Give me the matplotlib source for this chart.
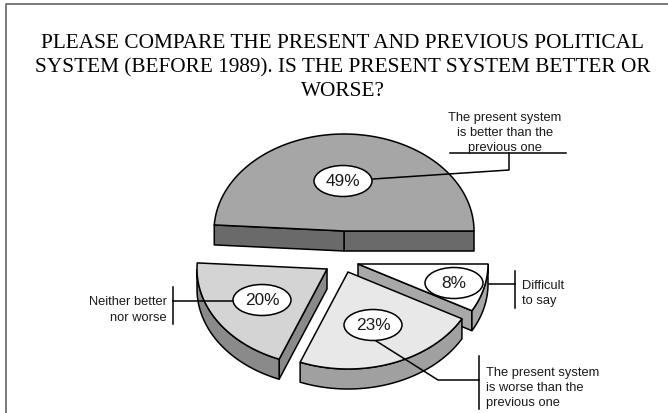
"""
Exploded tilted pie: present vs previous political system.
Drawn by hand on a pixel-sized axes because matplotlib has no 3D pie.
"""

import matplotlib.pyplot as plt
import numpy as np
from matplotlib.patches import Ellipse, Polygon

# ============================================================
# DATA
# ============================================================

title_lines = [
    "PLEASE COMPARE THE PRESENT AND PREVIOUS POLITICAL",
    "SYSTEM (BEFORE 1989). IS THE PRESENT SYSTEM BETTER OR",
    "WORSE?",
]
shares = [49, 20, 23, 8]
pct_labels = ["49%", "20%", "23%", "8%"]
top_colors = ["#a6a6a6", "#d4d4d4", "#e8e8e8", "#ffffff"]
side_colors = ["#6a6a6a", "#8a8a8a", "#a0a0a0", "#a8a8a8"]
centers = [(344, 232), (327, 270), (348, 273), (358, 265)]
bubble_centers = [(343, 182), (262, 301), (373, 326), (454, 284)]
draw_order = [0, 3, 1, 2]

RX, RY, DEPTH = 130, 97, 20
LW = 1.1
TEXT_COLOR = "#1a1a1a"


def arc(cx, cy, a0, a1, n=80):
    t = np.radians(np.linspace(a0, a1, n))
    return np.column_stack([cx + RX * np.cos(t), cy - RY * np.sin(t)])


fig = plt.figure(figsize=(6.68, 4.14), dpi=100)
ax = fig.add_axes([0, 0, 1, 1])
ax.set_xlim(0, 668)
ax.set_ylim(414, 0)
ax.axis("off")

# frame, open at the bottom and right
ax.plot([6, 6, 668], [414, 5, 5], color="#707070", lw=1.3)

for i, line in enumerate(title_lines):
    ax.text(342.5, 43.5 + i * 24, line, ha="center", va="center",
            family="Liberation Serif", fontsize=15.33, color="black")

# ============================================================
# WEDGES
# ============================================================

edges = np.concatenate([[0], np.cumsum(shares)]) / sum(shares) * 360

for z, k in enumerate(draw_order):
    a0, a1 = edges[k], edges[k + 1]
    cx, cy = centers[k]
    top = arc(cx, cy, a0, a1)

    # cut faces that look towards the viewer
    for ang, normal in [(a0, a0 - 90), (a1, a1 + 90)]:
        if np.sin(np.radians(normal)) < 0:
            tip = arc(cx, cy, ang, ang, 1)[0]
            quad = [(cx, cy), tip, (tip[0], tip[1] + DEPTH), (cx, cy + DEPTH)]
            ax.add_patch(Polygon(quad, fc=side_colors[k], ec="black", lw=LW,
                                 joinstyle="round", zorder=2 + z))

    # outer rim, only the part on the lower half of the ellipse
    lo, hi = max(a0, 180), min(a1, 360)
    if hi > lo:
        rim = arc(cx, cy, lo, hi)
        shifted = rim[::-1] + [0, DEPTH]
        ax.add_patch(Polygon(np.vstack([rim, shifted]), fc=side_colors[k],
                             ec="black", lw=LW, zorder=2 + z))

    ax.add_patch(Polygon(np.vstack([[cx, cy], top]), fc=top_colors[k],
                         ec="black", lw=LW, joinstyle="round", zorder=2.5 + z))

# ============================================================
# CALLOUTS
# ============================================================

leaders = [
    ([373, 509, 509], [180, 171, 154]),
    ([450, 566], [154, 154]),
    ([173, 233], [302, 302]),
    ([173, 173], [288, 325]),
    ([373, 438, 479], [340, 381, 381]),
    ([479, 479], [357, 410]),
    ([489, 515], [285, 285]),
    ([515, 515], [272, 309]),
]
for xs, ys in leaders:
    ax.plot(xs, ys, color="black", lw=LW, zorder=8)

for (bx, by), lab in zip(bubble_centers, pct_labels):
    ax.add_patch(Ellipse((bx, by), 58, 31, fc="white", ec="black", lw=LW, zorder=9))
    ax.text(bx, by, lab, ha="center", va="center", family="Liberation Sans",
            fontsize=12.4, color=TEXT_COLOR, zorder=10)

callouts = [
    (505, 133, "The present system\nis better than the\nprevious one", "center"),
    (167, 310, "Neither better\nnor worse", "right"),
    (522, 293.5, "Difficult\nto say", "left"),
    (486, 388, "The present system\nis worse than the\nprevious one", "left"),
]
for x, y, txt, ha in callouts:
    ax.text(x, y, txt, ha=ha, va="center", multialignment=ha, color=TEXT_COLOR,
            family="Liberation Sans", fontsize=9.3, linespacing=1.38, zorder=10)

fig.savefig("out.png", dpi=100)
